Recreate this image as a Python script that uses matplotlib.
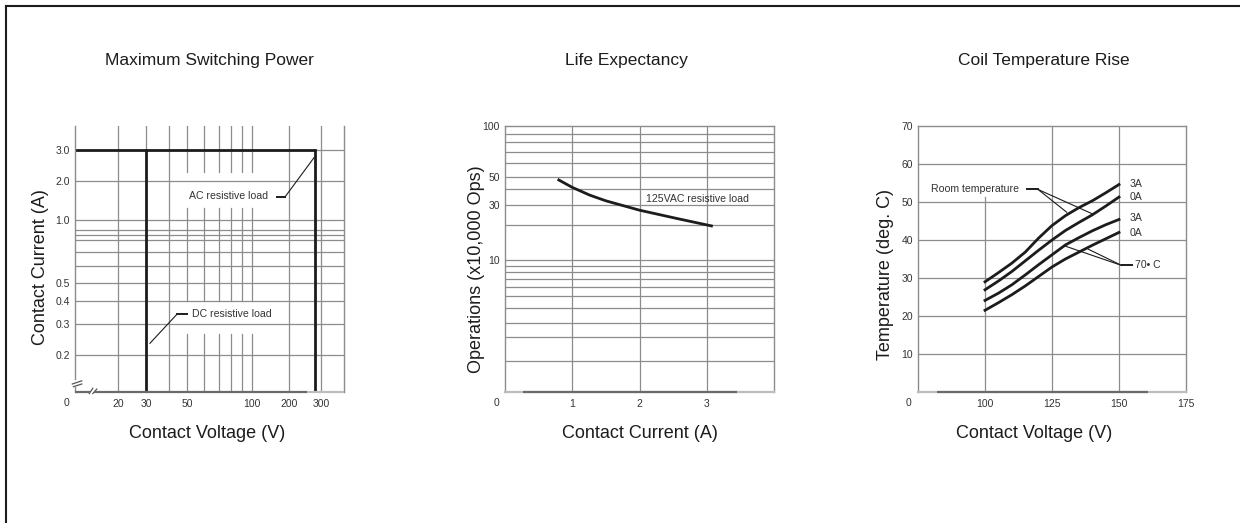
import numpy as np
import matplotlib.pyplot as plt
from matplotlib.lines import Line2D

plt.rcParams['font.family'] = ['Liberation Sans', 'DejaVu Sans']

# ---- data ----
# Maximum switching power
volt_ticks = [20, 30, 50, 100, 200, 300]
volt_grid = [20, 30, 40, 200, 300]
volt_grid_broken = [50, 60, 70, 80, 90, 100]
curr_ticks = [0.2, 0.3, 0.4, 0.5, 1.0, 2.0, 3.0]
curr_grid = [0.2, 0.3, 0.4, 0.5, 0.6, 0.7, 0.8, 0.85, 0.9, 1.0, 2.0, 3.0]
dc_limit_v = 30
ac_limit_v = 277
max_current = 3.0

# Life expectancy
life_current = [0.8, 1.0, 1.26, 1.5, 2.0, 2.55, 3.07]
life_ops = [47.2, 41.3, 35.9, 32.4, 27.1, 23.0, 19.8]
ops_ticks = [10, 30, 50, 100]
ops_grid = [1, 2, 3, 4, 5, 6, 7, 8, 9, 10, 20, 30, 40, 50, 60, 70, 80, 90]
life_x_ticks = [1, 2, 3]

# Coil temperature rise
coil_v = [100, 105, 110, 115, 120, 125, 130, 135, 140, 145, 150]
rt_3a = [29.0, 31.4, 33.9, 36.8, 40.5, 43.8, 46.4, 48.5, 50.3, 52.4, 54.6]
rt_0a = [26.9, 29.2, 31.7, 34.5, 37.3, 40.0, 42.5, 44.6, 46.6, 48.9, 51.3]
hot_3a = [24.1, 26.0, 28.2, 30.8, 33.5, 36.1, 38.7, 40.6, 42.4, 44.0, 45.4]
hot_0a = [21.5, 23.5, 25.6, 27.9, 30.4, 32.9, 35.0, 36.8, 38.6, 40.3, 42.0]
temp_ticks = [10, 20, 30, 40, 50, 60, 70]
coil_x_ticks = [100, 125, 150, 175]

GRID = '#8c8c8c'
INK = '#1c1c1c'
TXT = '#333333'


def chart_scale(vals, pos):
    # schematic log-like axis of the datasheet, piecewise between anchors
    lv = np.log10(vals)

    def fwd(v):
        v = np.clip(np.asarray(v, dtype=float), 1e-6, None)
        return np.interp(np.log10(v), lv, pos)

    def inv(p):
        return 10 ** np.interp(np.asarray(p, dtype=float), pos, lv)
    return fwd, inv


def style(ax):
    for s in ['left', 'right', 'top']:
        ax.spines[s].set_color(GRID)
        ax.spines[s].set_linewidth(1.0)
    ax.spines['bottom'].set_color('#bdbdbd')
    ax.spines['bottom'].set_linewidth(1.6)
    ax.tick_params(length=0, labelsize=7.5, labelcolor=TXT)
    ax.tick_params(axis='y', pad=3.6)
    ax.tick_params(axis='x', pad=5)
    ax.minorticks_off()


def bottom_dark(ax, x0, x1):
    ax.plot([x0, x1], [0, 0], color='#6a6a6a', lw=1.6, transform=ax.transAxes,
            clip_on=False, zorder=5, solid_capstyle='butt')


def zero_label(ax):
    ax.annotate('0', xy=(0, 0), xycoords='axes fraction', xytext=(-9, -11),
                textcoords='offset pixels', ha='center', va='center',
                fontsize=7.5, color=TXT)


fig = plt.figure(figsize=(12.4, 5.23), dpi=100)
W, H = 1240, 523


def add_axes(left, right, top, bottom):
    return fig.add_axes([left / W, 1 - bottom / H, (right - left) / W, (bottom - top) / H])


# ---------- panel 1 ----------
ax1 = add_axes(75, 344, 126, 392)
ax1.set_xscale('function', functions=chart_scale([10, 20, 30, 50, 100, 200, 300, 400],
                                                 [0, 43, 71, 112, 177, 214, 246, 269]))
ax1.set_yscale('function', functions=chart_scale([0.1, 0.2, 0.3, 0.4, 0.5, 1, 2, 3, 4],
                                                 [0, 37, 68, 91, 109, 172, 211, 242, 266]))
ax1.set_xlim(10, 400)
ax1.set_ylim(0.1, 4)
style(ax1)
ax1.spines['top'].set_visible(False)
ax1.spines['left'].set_visible(False)
ax1.spines['bottom'].set_visible(False)
for y in curr_grid:
    ax1.axhline(y, color=GRID, lw=0.9, zorder=1)
for x in volt_grid:
    ax1.axvline(x, color=GRID, lw=0.9, zorder=1)
for x in volt_grid_broken:
    for y0, y1 in [(0.1, 0.263), (0.4, 1.24), (2.25, 4)]:
        ax1.plot([x, x], [y0, y1], color=GRID, lw=0.9, zorder=1)
ax1.plot([10, ac_limit_v], [max_current, max_current], color=INK, lw=2.0, zorder=4,
         solid_capstyle='butt')
ax1.plot([dc_limit_v, dc_limit_v], [0.1, max_current], color=INK, lw=2.0, zorder=4)
ax1.plot([ac_limit_v, ac_limit_v], [0.1, max_current], color=INK, lw=2.0, zorder=4)
ax1.set_xticks(volt_ticks, [str(v) for v in volt_ticks])
ax1.set_yticks(curr_ticks, ['%.1f' % c for c in curr_ticks])
# left spine with break
tr = ax1.transAxes
for xs, ys, c, lw in [([0, 0], [1, 0.049], GRID, 1.0), ([0, 0], [0.019, 0], GRID, 1.0),
                      ([-0.010, 0.025], [0.030, 0.042], '#555555', 0.9),
                      ([-0.006, 0.025], [0.020, 0.030], '#555555', 0.9),
                      ([0.053, 0.066], [-0.006, 0.014], '#555555', 0.9),
                      ([0.066, 0.081], [-0.006, 0.011], '#555555', 0.9)]:
    ax1.plot(xs, ys, color=c, lw=lw, transform=tr, clip_on=False, zorder=5)
ax1.plot([0, 0.055], [0, 0], color='#6a6a6a', lw=1.6, transform=tr, clip_on=False,
         zorder=5, solid_capstyle='butt')
ax1.plot([0.072, 0.862], [0, 0], color='#6a6a6a', lw=1.6, transform=tr, clip_on=False,
         zorder=5, solid_capstyle='butt')
ax1.plot([0.862, 1], [0, 0], color='#bdbdbd', lw=1.6, transform=tr, clip_on=False,
         zorder=5, solid_capstyle='butt')
zero_label(ax1)
ax1.text(51, 1.53, 'AC resistive load', fontsize=7.6, color=TXT, ha='left', va='center')
ax1.plot([160, 185], [1.50, 1.50], color=INK, lw=1.4, zorder=4)
ax1.plot([185, 275], [1.50, 2.72], color=INK, lw=0.8, zorder=4)
ax1.text(53, 0.342, 'DC resistive load', fontsize=7.6, color=TXT, ha='left', va='center')
ax1.plot([44, 50], [0.338, 0.338], color=INK, lw=1.4, zorder=4)
ax1.plot([44, 31.5], [0.338, 0.233], color=INK, lw=0.8, zorder=4)
ax1.set_xlabel('Contact Voltage (V)', fontsize=13, color=INK)
ax1.set_ylabel('Contact Current (A)', fontsize=13, color=INK)
ax1.xaxis.set_label_coords(0.49, -0.125)
ax1.yaxis.set_label_coords(-0.095, 0.47)

# ---------- panel 2 ----------
ax2 = add_axes(505, 774, 126, 392)
ax2.set_yscale('function', functions=chart_scale([0.5, 1, 3, 10, 30, 50, 100],
                                                 [0, 31, 69.4, 131.7, 186.7, 215, 265.7]))
ax2.set_xlim(0, 4)
ax2.set_ylim(0.5, 100)
style(ax2)
for y in ops_grid:
    ax2.axhline(y, color=GRID, lw=0.9, zorder=1)
for x in life_x_ticks:
    ax2.axvline(x, color=GRID, lw=0.9, zorder=1)
ax2.plot(life_current, life_ops, color=INK, lw=2.0, zorder=4)
ax2.text(2.1, 33.5, '125VAC resistive load', fontsize=7.6, color=TXT, ha='left', va='center')
ax2.set_xticks(life_x_ticks, [str(v) for v in life_x_ticks])
ax2.set_yticks(ops_ticks, [str(v) for v in ops_ticks])
bottom_dark(ax2, 0.067, 0.862)
zero_label(ax2)
ax2.set_xlabel('Contact Current (A)', fontsize=13, color=INK)
ax2.set_ylabel('Operations (x10,000 Ops)', fontsize=13, color=INK)
ax2.xaxis.set_label_coords(0.5, -0.125)
ax2.yaxis.set_label_coords(-0.075, 0.46)

# ---------- panel 3 ----------
ax3 = add_axes(918, 1186, 126, 392)
ax3.set_xlim(75, 175)
ax3.set_ylim(0, 70)
style(ax3)
for y in temp_ticks[:-1]:
    ax3.axhline(y, color=GRID, lw=0.9, zorder=1)
ax3.plot([100, 100], [0, 51.2], color=GRID, lw=0.9, zorder=1)
for x in [125, 150]:
    ax3.axvline(x, color=GRID, lw=0.9, zorder=1)
for series in [rt_3a, rt_0a, hot_3a, hot_0a]:
    ax3.plot(coil_v, series, color=INK, lw=2.0, zorder=4)
for lab, y in zip(['3A', '0A', '3A', '0A'], [54.8, 51.3, 45.9, 41.8]):
    ax3.text(153.8, y, lab, fontsize=7.6, color=TXT, ha='left', va='center')
ax3.text(80, 53.5, 'Room temperature', fontsize=7.6, color=TXT, ha='left', va='center')
ax3.plot([115.5, 119.8], [53.3, 53.3], color=INK, lw=1.4, zorder=4)
ax3.plot([119.8, 130.5], [53.3, 47.3], color=INK, lw=0.8, zorder=4)
ax3.plot([119.8, 140.0], [53.3, 46.9], color=INK, lw=0.8, zorder=4)
ax3.text(156.0, 33.3, '70• C', fontsize=7.6, color=TXT, ha='left', va='center')
ax3.plot([151.0, 154.8], [33.3, 33.3], color=INK, lw=1.4, zorder=4)
ax3.plot([151.0, 129.5], [33.3, 38.5], color=INK, lw=0.8, zorder=4)
ax3.plot([151.0, 138.5], [33.3, 37.6], color=INK, lw=0.8, zorder=4)
ax3.set_xticks(coil_x_ticks, [str(v) for v in coil_x_ticks])
ax3.set_yticks(temp_ticks, [str(v) for v in temp_ticks])
bottom_dark(ax3, 0.071, 0.858)
zero_label(ax3)
ax3.set_xlabel('Contact Voltage (V)', fontsize=13, color=INK)
ax3.set_ylabel('Temperature (deg. C)', fontsize=13, color=INK)
ax3.xaxis.set_label_coords(0.435, -0.125)
ax3.yaxis.set_label_coords(-0.09, 0.44)

# titles
for x, t in [(209, 'Maximum Switching Power'), (626, 'Life Expectancy'),
             (1044, 'Coil Temperature Rise')]:
    fig.text(x / W, 1 - 61 / H, t, fontsize=12.5, color=INK, ha='center', va='center')

# outer frame (only top and left edges visible)
fig.add_artist(Line2D([6 / W, 1], [1 - 6 / H, 1 - 6 / H], color=INK, lw=1.5,
                      transform=fig.transFigure))
fig.add_artist(Line2D([6 / W, 6 / W], [0, 1 - 6 / H], color=INK, lw=1.5,
                      transform=fig.transFigure))

fig.savefig('out.png', dpi=100, facecolor='white')
